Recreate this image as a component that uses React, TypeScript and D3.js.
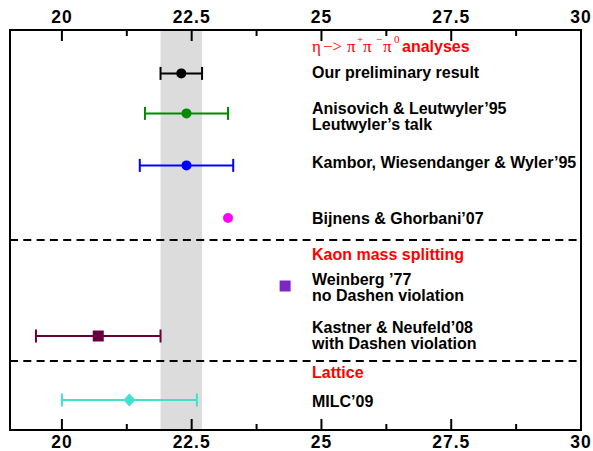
import React from 'react';
import * as d3 from 'd3';

// values (x in MeV-ish units, rows are vertical slots)
const pointValues = [22.3, 22.4, 22.4, 23.2, 24.3, 20.7, 21.3];
const pointErrors = [0.4, 0.8, 0.9, 0, 0, 1.2, 1.3];
const pointRows = [2.17, 4.17, 6.77, 9.4, 12.8, 15.3, 18.5];
const pointColors = ['#000000', '#008a00', '#0000ff', '#ff00ff', '#7b28c2', '#66003f', '#40e0d0'];
const pointShapes = ['circle', 'circle', 'circle', 'circle', 'square', 'square', 'diamond'];

const labelLines = [
  ['Our preliminary result'],
  ['Anisovich & Leutwyler’95', 'Leutwyler’s talk'],
  ['Kambor, Wiesendanger & Wyler’95'],
  ['Bijnens & Ghorbani’07'],
  ['Weinberg ’77', 'no Dashen violation'],
  ['Kastner & Neufeld’08', 'with Dashen violation'],
  ['MILC’09'],
];
const labelRows = [2.42, 4.2, 6.92, 9.72, 12.75, 15.15, 18.85];

const headerTexts = ['Kaon mass splitting', 'Lattice'];
const headerRows = [11.5, 17.4];
const firstHeaderRow = 1.1;

const bandRange = [21.9, 22.7];
const separatorRows = [10.5, 16.55];

const xDomain = [19, 30];
const majorTicks = [20, 22.5, 25, 27.5, 30];
const minorTicks = [21.25, 23.75, 26.25, 28.75];

const W = 593;
const H = 451;
const m = { left: 10, right: 12, top: 30, bottom: 21 };
const labelX = 312;
const lineGap = 16;
const sans = '"Liberation Sans", Arial, Helvetica, sans-serif';
const serif = '"Liberation Serif", "Times New Roman", serif';

export default function App() {
  const x = d3.scaleLinear().domain(xDomain).range([m.left, W - m.right]);
  const y = d3.scaleLinear().domain([0, 20]).range([m.top, H - m.bottom]);
  const [y0, y1] = y.range();
  const [x0, x1] = x.range();

  const marker = (shape: string, cx: number, cy: number, color: string) => {
    if (shape === 'circle') return <circle cx={cx} cy={cy} r={5} fill={color} />;
    if (shape === 'square') return <rect x={cx - 5.5} y={cy - 5.5} width={11} height={11} fill={color} />;
    const d = `M${cx},${cy - 6.5}L${cx + 6},${cy}L${cx},${cy + 6.5}L${cx - 6},${cy}Z`;
    return <path d={d} fill={color} />;
  };

  const hy = y(firstHeaderRow);

  return (
    <svg width={W} height={H} style={{ position: 'absolute', left: 0, top: 0, background: '#fff' }}>
      <rect x={x(bandRange[0])} y={y0} width={x(bandRange[1]) - x(bandRange[0])} height={y1 - y0} fill="#dcdcdc" />

      {separatorRows.map((r, i) => (
        <line key={i} x1={x0} x2={x1} y1={y(r)} y2={y(r)} stroke="#000" strokeWidth={2} strokeDasharray="8,5.3" />
      ))}

      {/* ticks, top and bottom, pointing inward */}
      {majorTicks.concat(minorTicks).map((t, i) => {
        const len = majorTicks.includes(t) ? 11 : 6;
        return (
          <g key={i} stroke="#000" strokeWidth={2}>
            <line x1={x(t)} x2={x(t)} y1={y0} y2={y0 + len} />
            <line x1={x(t)} x2={x(t)} y1={y1} y2={y1 - len} />
          </g>
        );
      })}
      {majorTicks.map((t, i) => (
        <g key={i} fontFamily={sans} fontWeight="bold" fontSize={17.5} letterSpacing={1} textAnchor="middle">
          <text x={x(t)} y={y0 - 7}>{d3.format('')(t)}</text>
          <text x={x(t)} y={y1 + 18}>{d3.format('')(t)}</text>
        </g>
      ))}

      {/* error bars and markers */}
      {pointValues.map((v, i) => {
        const cy = y(pointRows[i]);
        const e = pointErrors[i];
        const c = pointColors[i];
        return (
          <g key={i}>
            {e > 0 && (
              <g stroke={c} strokeWidth={2}>
                <line x1={x(v - e)} x2={x(v + e)} y1={cy} y2={cy} />
                <line x1={x(v - e)} x2={x(v - e)} y1={cy - 6.5} y2={cy + 6.5} />
                <line x1={x(v + e)} x2={x(v + e)} y1={cy - 6.5} y2={cy + 6.5} />
              </g>
            )}
            {marker(pointShapes[i], x(v), cy, c)}
          </g>
        );
      })}

      <rect x={x0} y={y0} width={x1 - x0} height={y1 - y0} fill="none" stroke="#000" strokeWidth={2} />

      {/* labels */}
      <g fontFamily={sans} fontWeight="bold" fontSize={16} fill="#000">
        {labelLines.map((lines, i) =>
          lines.map((s, j) => (
            <text key={`${i}-${j}`} x={labelX} y={y(labelRows[i]) + j * lineGap}>{s}</text>
          ))
        )}
      </g>
      <g fontFamily={sans} fontWeight="bold" fontSize={16} fill="#ff0000">
        {headerTexts.map((s, i) => (
          <text key={i} x={labelX} y={y(headerRows[i])}>{s}</text>
        ))}
      </g>
      <g fill="#ff0000">
        <text fontFamily={serif} fontSize={17} x={labelX} y={hy}>η</text>
        <text fontFamily={serif} fontSize={17} x={labelX + 11} y={hy}>−&gt;</text>
        <text fontFamily={serif} fontSize={17} x={labelX + 35} y={hy}>π</text>
        <text fontFamily={serif} fontSize={11} x={labelX + 45} y={hy - 9}>+</text>
        <text fontFamily={serif} fontSize={17} x={labelX + 51} y={hy}>π</text>
        <text fontFamily={serif} fontSize={11} x={labelX + 64} y={hy - 9}>−</text>
        <text fontFamily={serif} fontSize={17} x={labelX + 71} y={hy}>π</text>
        <text fontFamily={serif} fontSize={11} x={labelX + 82} y={hy - 9}>0</text>
        <text fontFamily={sans} fontWeight="bold" fontSize={16} x={labelX + 90} y={hy}>analyses</text>
      </g>
    </svg>
  );
}
